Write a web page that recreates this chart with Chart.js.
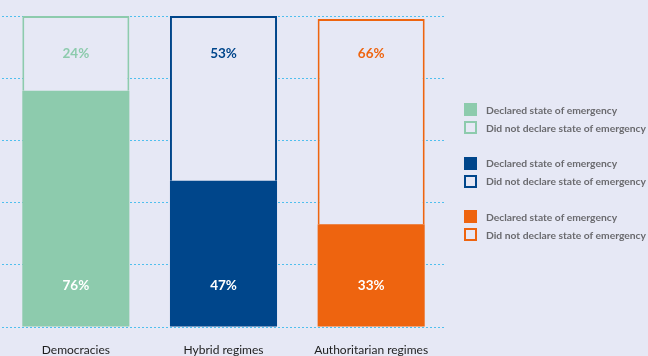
<!DOCTYPE html>
<html>
<head>
<meta charset="utf-8">
<script src="https://cdn.jsdelivr.net/npm/chart.js@4/dist/chart.umd.min.js"></script>
<style>
    html, body { margin: 0; padding: 0; background: #e6e8f5; overflow: hidden; }
    #wrap { position: relative; width: 648px; height: 372px; }
    #legend { position: absolute; left: 464px; top: 103px; font-family: Lato, "Open Sans", sans-serif; font-weight: bold; font-size: 10.3px; color: #6a6a6e; }
    .group { margin-bottom: 22.5px; }
    .row { display: flex; align-items: center; height: 13px; margin-bottom: 5px; white-space: nowrap; }
    .sw { width: 13px; height: 13px; box-sizing: border-box; margin-right: 9px; flex: none; }
</style>
</head>
<body>
<div id="wrap">
    <canvas id="chart" width="648" height="372"></canvas>
    <div id="legend"></div>
</div>
<script>
const categories = ['Democracies', 'Hybrid regimes', 'Authoritarian regimes'];
const declared = [76, 47, 33];
const notDeclared = [24, 53, 66];
const regimeColors = ['#8dcbad', '#00468b', '#ee640f'];
const legendLabels = ['Declared state of emergency', 'Did not declare state of emergency'];

const bgColor = '#e6e8f5';

// percentage labels: declared near the base, not-declared near the 100% line
const valueLabels = {
    id: 'valueLabels',
    afterDatasetsDraw(chart) {
        const ctx = chart.ctx;
        const y = chart.scales.y;
        ctx.save();
        ctx.font = 'bold 13.5px Lato, "Open Sans", sans-serif';
        ctx.textAlign = 'center';
        ctx.textBaseline = 'middle';
        chart.getDatasetMeta(0).data.forEach((bar, i) => {
            ctx.fillStyle = '#ffffff';
            ctx.fillText(declared[i] + '%', bar.x, y.getPixelForValue(0) - 41);
        });
        chart.getDatasetMeta(1).data.forEach((bar, i) => {
            ctx.fillStyle = regimeColors[i];
            ctx.fillText(notDeclared[i] + '%', bar.x, y.getPixelForValue(100) + 38);
        });
        ctx.restore();
    }
};

new Chart(document.getElementById('chart'), {
    type: 'bar',
    data: {
        labels: categories,
        datasets: [
            {
                label: legendLabels[0],
                data: declared,
                backgroundColor: regimeColors,
                borderWidth: 0
            },
            {
                label: legendLabels[1],
                data: notDeclared,
                backgroundColor: bgColor,
                borderColor: regimeColors,
                borderWidth: 2,
                borderSkipped: 'bottom'
            }
        ]
    },
    options: {
        responsive: false,
        animation: false,
        events: [],
        layout: { padding: { left: 2, right: 203, top: 16, bottom: 16 } },
        datasets: { bar: { categoryPercentage: 1, barPercentage: 0.725 } },
        plugins: { legend: { display: false }, tooltip: { enabled: false } },
        scales: {
            x: {
                stacked: true,
                grid: { display: false, drawTicks: false },
                border: { display: false },
                ticks: {
                    color: '#1e1e1e',
                    padding: 16,
                    maxRotation: 0,
                    font: { family: 'Lato, "Open Sans", sans-serif', size: 12 }
                },
                afterFit(scale) { scale.height = 29; }
            },
            y: {
                stacked: true,
                min: 0,
                max: 100,
                border: { display: false, dash: [2, 2] },
                grid: { color: '#50bfee', lineWidth: 1, drawTicks: false },
                ticks: { display: false, stepSize: 20 }
            }
        }
    },
    plugins: [valueLabels]
});

// legend: one filled and one outlined swatch per regime type
const legend = document.getElementById('legend');
regimeColors.forEach(color => {
    const group = document.createElement('div');
    group.className = 'group';
    legendLabels.forEach((text, k) => {
        const row = document.createElement('div');
        row.className = 'row';
        const sw = document.createElement('span');
        sw.className = 'sw';
        if (k === 0) sw.style.background = color;
        else sw.style.border = '2px solid ' + color;
        row.appendChild(sw);
        row.appendChild(document.createTextNode(text));
        group.appendChild(row);
    });
    legend.appendChild(group);
});
</script>
</body>
</html>
